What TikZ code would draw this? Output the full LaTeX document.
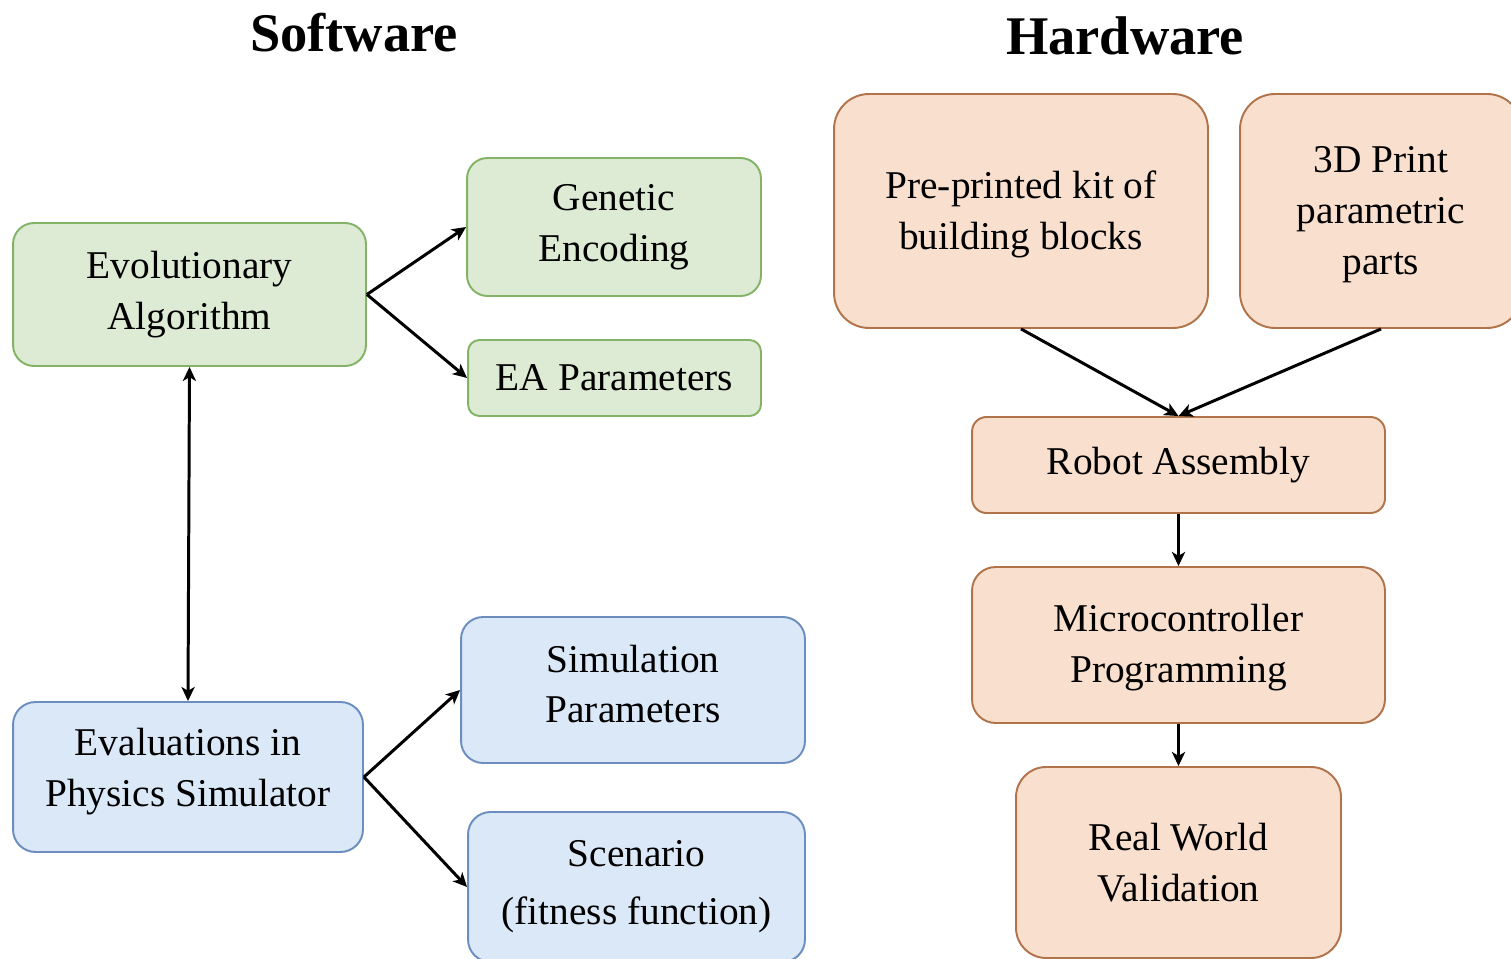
\documentclass[tikz,border=0pt]{standalone}
\usepackage{fontspec}
\setmainfont{Liberation Serif}
\usetikzlibrary{arrows.meta}

\definecolor{swfill}{HTML}{DDEBD5}
\definecolor{swline}{HTML}{82B366}
\definecolor{simfill}{HTML}{DAE8F8}
\definecolor{simline}{HTML}{6C8EBF}
\definecolor{hwfill}{HTML}{F9DFCE}
\definecolor{hwline}{HTML}{B0734A}

\tikzset{
  box/.style={rectangle, line width=1.1pt, inner sep=0pt, align=center,
    font=\fontsize{22.4pt}{29pt}\selectfont},
  eabox/.style={box, fill=swfill, draw=swline},
  simbox/.style={box, fill=simfill, draw=simline},
  hwbox/.style={box, fill=hwfill, draw=hwline},
  title/.style={font=\fontsize{31pt}{36pt}\selectfont\bfseries},
  tip/.tip={Stealth[length=8pt, width=7.5pt, inset=2.2pt]},
  link/.style={line width=1.7pt, -tip},
  twoway/.style={line width=1.7pt, tip-tip}
}
% invisible struts that nudge a label up (extra depth) or down (extra height)
\newcommand\lowstrut[1]{\rule[-#1]{0pt}{#1}}
\newcommand\highstrut[1]{\rule{0pt}{#1}}

\begin{document}
\begin{tikzpicture}[x=0.02cm, y=-0.02cm]
  \path[use as bounding box] (0,0) rectangle (1511,959);
  \clip (0,0) rectangle (1511,959);

  % column headings
  \node[title] (swt) at (354,33) {Software};
  \node[title] (hwt) at (1125,36) {Hardware};

  % software: evolutionary side
  \node[eabox, minimum width=7.06cm, minimum height=2.86cm, rounded corners=0.42cm]
    (ea) at (189.5,294.5) {Evolutionary\\Algorithm};
  \node[eabox, minimum width=5.88cm, minimum height=2.76cm, rounded corners=0.41cm]
    (ge) at (614,227) {Genetic\\Encoding};
  \node[eabox, minimum width=5.86cm, minimum height=1.52cm, rounded corners=0.23cm]
    (ep) at (614.5,378) {EA Parameters};

  % software: simulation side
  \node[simbox, minimum width=7.0cm, minimum height=3.0cm, rounded corners=0.45cm]
    (ev) at (188,777) {Evaluations in\\Physics Simulator\lowstrut{10.5pt}};
  \node[simbox, minimum width=6.88cm, minimum height=2.92cm, rounded corners=0.44cm]
    (sp) at (633,690) {Simulation\\Parameters\lowstrut{7pt}};
  \node[simbox, minimum width=6.74cm, minimum height=3.0cm, rounded corners=0.45cm]
    (sc) at (636.5,887) {Scenario\\[4pt](fitness function)};

  % hardware pipeline
  \node[hwbox, minimum width=7.48cm, minimum height=4.68cm, rounded corners=0.7cm]
    (kit) at (1021,211) {\highstrut{19.5pt}Pre-printed kit of\\building blocks};
  \node[hwbox, minimum width=5.64cm, minimum height=4.68cm, rounded corners=0.7cm]
    (prt) at (1381,211) {\highstrut{19.5pt}3D Print\\parametric\\parts};
  \node[hwbox, minimum width=8.26cm, minimum height=1.92cm, rounded corners=0.29cm]
    (ra) at (1178.5,465) {Robot Assembly};
  \node[hwbox, minimum width=8.26cm, minimum height=3.12cm, rounded corners=0.47cm]
    (mc) at (1178.5,645) {\highstrut{18.7pt}Microcontroller\\Programming};
  \node[hwbox, minimum width=6.5cm, minimum height=3.82cm, rounded corners=0.6cm]
    (rw) at (1178.5,862.5) {Real World\\Validation};

  % connectors
  \draw[link] (ea.east) -- (ge.west);
  \draw[link] (ea.east) -- (ep.west);
  \draw[twoway] (ea.south) -- (ev.north);
  \draw[link] (ev.east) -- (sp.west);
  \draw[link] (ev.east) -- (sc.west);

  \draw[link] (kit.south) -- (ra.north);
  \draw[link] (prt.south) -- (ra.north);
  \draw[link] (ra.south) -- (mc.north);
  \draw[link] (mc.south) -- (rw.north);
\end{tikzpicture}
\end{document}
